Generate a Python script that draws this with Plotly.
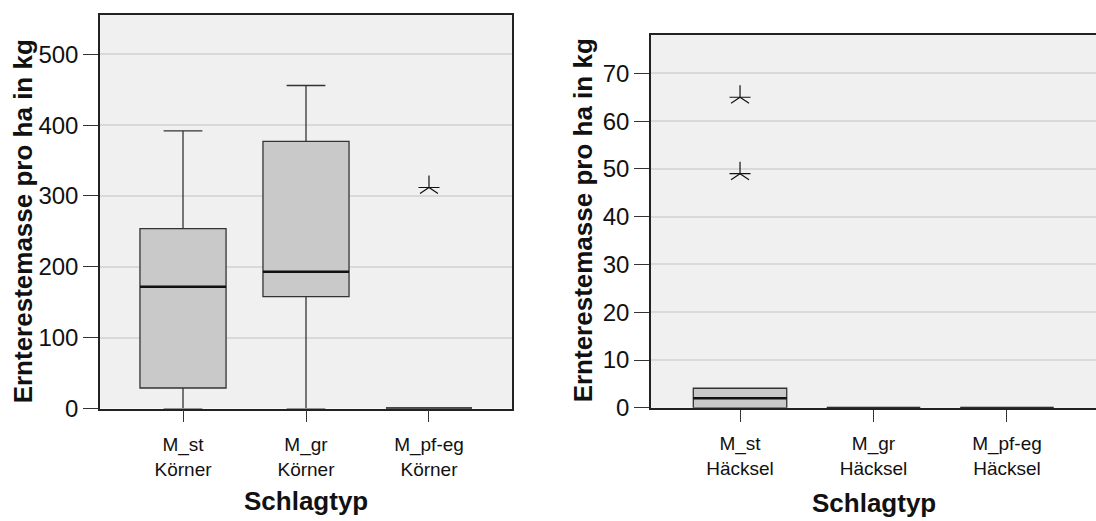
import plotly.graph_objects as go

# ---------------- data ----------------
cats_left = ["M_st<br>Körner", "M_gr<br>Körner", "M_pf-eg<br>Körner"]
left_lowerfence = [0, 0, 0]
left_q1 = [29, 158, 0]
left_median = [172, 193, 0]
left_q3 = [254, 377, 0]
left_upperfence = [392, 456, 0]
left_outlier_x = ["M_pf-eg<br>Körner"]
left_outlier_y = [312]

cats_right = ["M_st<br>Häcksel", "M_gr<br>Häcksel", "M_pf-eg<br>Häcksel"]
right_lowerfence = [0, 0, 0]
right_q1 = [0, 0, 0]
right_median = [2.0, 0, 0]
right_q3 = [4.1, 0, 0]
right_upperfence = [4.1, 0, 0]
right_outlier_x = ["M_st<br>Häcksel", "M_st<br>Häcksel"]
right_outlier_y = [65, 49]

left_ticks = [0, 100, 200, 300, 400, 500]
right_ticks = [0, 10, 20, 30, 40, 50, 60, 70]

y_title = "Ernterestemasse pro ha in kg"
x_title = "Schlagtyp"

# ---------------- style ----------------
FONT = "Liberation Sans, Arial, sans-serif"
W, H = 1096, 521
BG = "#EFF0EF"
BOXFILL = "#C9C9C9"
LINE = "#333333"
GRID = "#D9D9D9"

fig = go.Figure()

def add_panel(cats, lf, q1, med, q3, uf, ox, oy, xa, ya):
    fig.add_trace(go.Box(
        x=cats, lowerfence=lf, q1=q1, median=med, q3=q3, upperfence=uf,
        width=0.7, whiskerwidth=0.45, fillcolor=BOXFILL,
        line=dict(color=LINE, width=1.3), boxpoints=False,
        xaxis=xa, yaxis=ya, showlegend=False, hoverinfo="skip"))
    # thicker black median line drawn as a flat box at the median value
    fig.add_trace(go.Box(
        x=cats, lowerfence=med, q1=med, median=med, q3=med, upperfence=med,
        width=0.7, whiskerwidth=0, fillcolor="rgba(0,0,0,0)",
        line=dict(color="#111111", width=2.4), boxpoints=False,
        xaxis=xa, yaxis=ya, showlegend=False, hoverinfo="skip"))
    for sym in ["y-up-open", "line-ew-open"]:
        fig.add_trace(go.Scatter(
            x=ox, y=oy, mode="markers", xaxis=xa, yaxis=ya,
            marker=dict(symbol=sym, size=15, color="#111",
                        line=dict(color="#111", width=1.2)),
            showlegend=False, hoverinfo="skip"))

add_panel(cats_left, left_lowerfence, left_q1, left_median, left_q3,
          left_upperfence, left_outlier_x, left_outlier_y, "x", "y")
add_panel(cats_right, right_lowerfence, right_q1, right_median, right_q3,
          right_upperfence, right_outlier_x, right_outlier_y, "x2", "y2")

def xaxis(domain, anchor, cats, rng):
    return dict(domain=domain, anchor=anchor, type="category",
                categoryorder="array", categoryarray=cats, range=rng,
                showline=True, linecolor="#222", linewidth=1.5, mirror=True,
                ticks="outside", ticklen=12, tickcolor=LINE, tickwidth=1.2,
                ticklabelstandoff=6,
                showgrid=False, zeroline=False,
                tickfont=dict(family=FONT, size=19, color="#111"))

def yaxis(domain, anchor, rng, tickvals, mirror):
    return dict(domain=domain, anchor=anchor, range=rng,
                tickvals=tickvals, showline=True, linecolor="#222",
                linewidth=1.5, mirror=mirror,
                ticks="outside", ticklen=15, tickcolor=LINE, tickwidth=1.2,
                showgrid=True, gridcolor=GRID, gridwidth=1.5,
                zeroline=False,
                tickfont=dict(family=FONT, size=24, color="#111"))

fig.update_layout(
    width=W, height=H,
    margin=dict(l=0, r=0, t=0, b=0),
    paper_bgcolor="white", plot_bgcolor=BG,
    xaxis=xaxis([100 / W, 512 / W], "y", cats_left, [-0.675, 2.675]),
    yaxis=yaxis([(H - 419) / H, (H - 15) / H], "x", [0, 556], left_ticks, True),
    xaxis2=xaxis([651 / W, 1.0], "y2", cats_right, [-0.667, 2.667]),
    yaxis2=yaxis([(H - 418.3) / H, (H - 36) / H], "x2", [0, 78], right_ticks, False),
)

title_font = dict(family=FONT, size=26, color="#111", weight="bold")
annos = [
    dict(text=y_title, x=23 / W, y=1 - 227 / H, textangle=-90),
    dict(text=y_title, x=583 / W, y=1 - 226 / H, textangle=-90),
    dict(text=x_title, x=306 / W, y=1 - 514 / H),
    dict(text=x_title, x=873.5 / W, y=1 - 516 / H),
]
for a in annos:
    fig.add_annotation(xref="paper", yref="paper", xanchor="center",
                       yanchor="middle", showarrow=False, font=title_font, **a)

fig.write_html("out.html",
               config={"displayModeBar": False},
               post_script="document.body.style.margin='0';"
                           "document.body.style.overflow='hidden';")
